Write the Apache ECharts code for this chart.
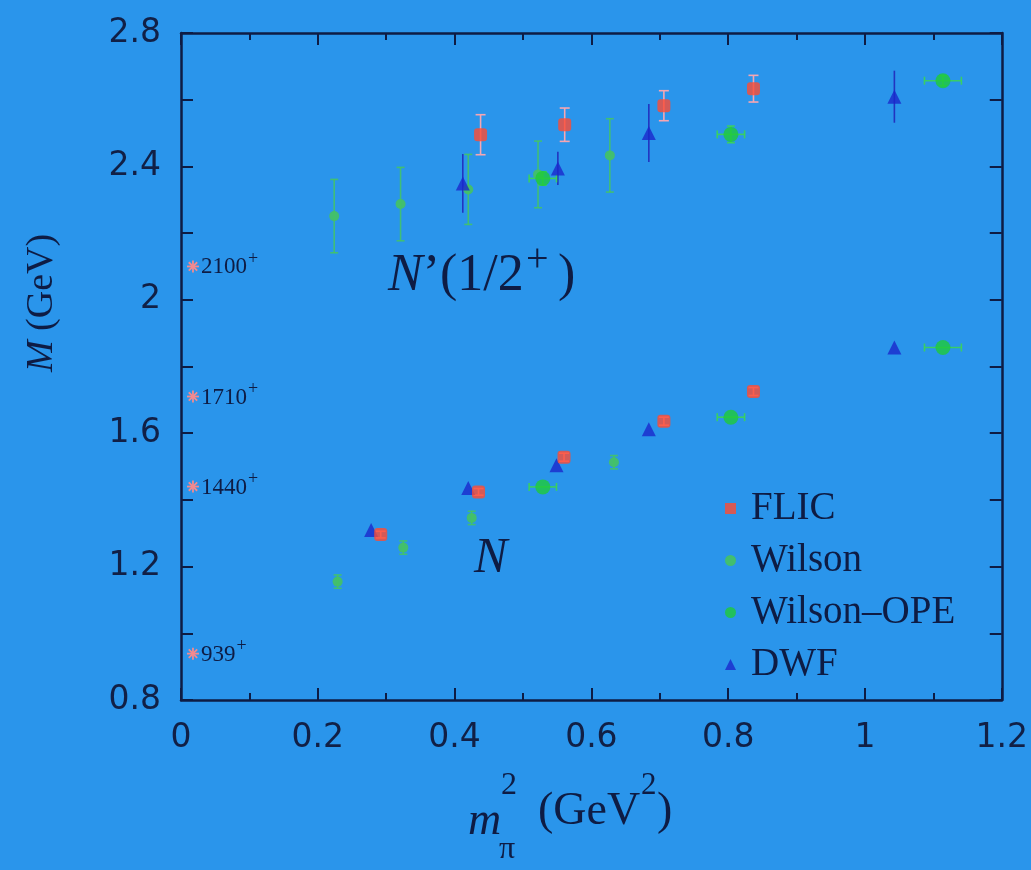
<!DOCTYPE html>
<html><head><meta charset="utf-8">
<script src="https://cdn.jsdelivr.net/npm/echarts@6/dist/echarts.min.js"></script>
<style>html,body{margin:0;padding:0;background:#2a95eb;}#c{width:1031px;height:870px;}</style>
</head><body><div id="c"></div>
<script>
// ---- data ----
const flicNX=[0.292,0.435,0.560,0.706,0.837];
const flicN=[1.296,1.424,1.528,1.636,1.725];
const flicNErr=[0.01,0.01,0.012,0.012,0.012];
const flicPX=[0.438,0.561,0.706,0.837];
const flicP=[2.495,2.525,2.582,2.633];
const flicPErr=[0.06,0.05,0.045,0.04];

const wilNX=[0.229,0.325,0.425,0.633];
const wilN=[1.155,1.257,1.346,1.513];
const wilNErr=[0.02,0.02,0.02,0.02];
const wilPX=[0.224,0.321,0.420,0.522,0.627];
const wilP=[2.251,2.287,2.331,2.376,2.433];
const wilPErr=[0.11,0.11,0.105,0.10,0.11];

const opeX=[0.529,0.804,1.114];
const opeXErr=[0.02,0.02,0.027];
const opeN=[1.439,1.648,1.857];
const opeP=[2.364,2.496,2.657];
const opePErr=[0.02,0.025,0.015];

const dwfNX=[0.278,0.420,0.549,0.684,1.043];
const dwfN=[1.310,1.436,1.504,1.612,1.857];
const dwfPX=[0.412,0.551,0.684,1.043];
const dwfP=[2.349,2.394,2.500,2.609];
const dwfPErr=[0.088,0.05,0.087,0.078];

const physX=0.0175;
const physM=[0.939,1.440,1.710,2.100];
const physLabels=['939','1440','1710','2100'];

const seriesNames=['FLIC','Wilson','Wilson–OPE','DWF'];

// ---- build ----
const ink='#0e1c44';
function pts(xs,ys){return xs.map((x,i)=>[x,ys[i]]);}
function errPts(xs,ys,ey,ex){return xs.map((x,i)=>[x,ys[i],ey?ey[i]:0,ex?ex[i]:0]);}

function errRender(color,cap,lw){
  return function(params,api){
    const x=api.value(0),y=api.value(1),ey=api.value(2),ex=api.value(3);
    const ch=[];
    const st={stroke:color,lineWidth:lw};
    if(ey>0){
      const a=api.coord([x,y-ey]),b=api.coord([x,y+ey]);
      ch.push({type:'line',shape:{x1:a[0],y1:a[1],x2:b[0],y2:b[1]},style:st});
      if(cap>0){
        ch.push({type:'line',shape:{x1:a[0]-cap,y1:a[1],x2:a[0]+cap,y2:a[1]},style:st});
        ch.push({type:'line',shape:{x1:b[0]-cap,y1:b[1],x2:b[0]+cap,y2:b[1]},style:st});
      }
    }
    if(ex>0){
      const a=api.coord([x-ex,y]),b=api.coord([x+ex,y]);
      ch.push({type:'line',shape:{x1:a[0],y1:a[1],x2:b[0],y2:b[1]},style:st});
      if(cap>0){
        ch.push({type:'line',shape:{x1:a[0],y1:a[1]-cap,x2:a[0],y2:a[1]+cap},style:st});
        ch.push({type:'line',shape:{x1:b[0],y1:b[1]-cap,x2:b[0],y2:b[1]+cap},style:st});
      }
    }
    return {type:'group',children:ch};
  };
}

function physRender(params,api){
  const c=api.coord([api.value(0),api.value(1)]);
  const lbl=physLabels[params.dataIndex];
  const r=6, col='#f48a8e';
  const st={stroke:col,lineWidth:1.8};
  const ch=[
    {type:'line',shape:{x1:c[0]-r,y1:c[1],x2:c[0]+r,y2:c[1]},style:st},
    {type:'line',shape:{x1:c[0],y1:c[1]-r,x2:c[0],y2:c[1]+r},style:st},
    {type:'line',shape:{x1:c[0]-r*0.7,y1:c[1]-r*0.7,x2:c[0]+r*0.7,y2:c[1]+r*0.7},style:st},
    {type:'line',shape:{x1:c[0]-r*0.7,y1:c[1]+r*0.7,x2:c[0]+r*0.7,y2:c[1]-r*0.7},style:st},
    {type:'text',x:c[0]+8,y:c[1]+1,style:{text:lbl,fill:ink,font:'23px "Liberation Serif"',textAlign:'left',textVerticalAlign:'middle'}},
    {type:'text',x:c[0]+8+lbl.length*11.5+1,y:c[1]-7,style:{text:'+',fill:ink,font:'18px "Liberation Serif"',textAlign:'left',textVerticalAlign:'middle'}}
  ];
  return {type:'group',children:ch};
}

const axisLine={show:true,onZero:false,lineStyle:{color:ink,width:2.5}};
const tickStyle={color:ink,width:2};
const labelStyle={fontFamily:'DejaVu Sans',fontSize:33,color:'#112046'};

const option={
  backgroundColor:'#2a95eb',
  animation:false,
  grid:{left:181,right:29,top:33,bottom:170,containLabel:false},
  xAxis:[
    {type:'value',min:0,max:1.2,interval:0.2,position:'bottom',axisLine,
     axisTick:{show:true,inside:true,length:12,lineStyle:tickStyle},
     minorTick:{show:true,splitNumber:2,length:7,lineStyle:tickStyle},
     splitLine:{show:false},axisLabel:Object.assign({margin:22},labelStyle)},
    {type:'value',min:0,max:1.2,interval:0.2,position:'top',axisLine,
     axisTick:{show:true,inside:true,length:12,lineStyle:tickStyle},
     minorTick:{show:true,splitNumber:2,length:7,lineStyle:tickStyle},
     splitLine:{show:false},axisLabel:{show:false}}
  ],
  yAxis:[
    {type:'value',min:0.8,max:2.8,interval:0.4,position:'left',axisLine,
     axisTick:{show:true,inside:true,length:12,lineStyle:tickStyle},
     minorTick:{show:true,splitNumber:2,length:12,lineStyle:tickStyle},
     splitLine:{show:false},axisLabel:Object.assign({margin:20},labelStyle)},
    {type:'value',min:0.8,max:2.8,interval:0.4,position:'right',axisLine,
     axisTick:{show:true,inside:true,length:12,lineStyle:tickStyle},
     minorTick:{show:true,splitNumber:2,length:12,lineStyle:tickStyle},
     splitLine:{show:false},axisLabel:{show:false}}
  ],
  legend:{
    data:[{name:'FLIC',icon:'rect'},{name:'Wilson',icon:'circle'},{name:'Wilson–OPE',icon:'circle'},{name:'DWF',icon:'triangle'}],
    orient:'vertical',left:720,top:484,itemWidth:11,itemHeight:11,itemGap:13,
    textStyle:{fontFamily:'Liberation Serif',fontSize:39,color:ink,lineHeight:39,padding:[0,0,0,10]}
  },
  series:[
    {name:'Wilson err',type:'custom',renderItem:errRender('rgba(70,200,90,0.8)',4,1.6),encode:{x:0,y:1},
     data:errPts(wilPX,wilP,wilPErr).concat(errPts(wilNX,wilN,wilNErr)),z:1,silent:true},
    {name:'FLIC err',type:'custom',renderItem:errRender('#f6a6b2',5,1.6),encode:{x:0,y:1},
     data:errPts(flicPX,flicP,flicPErr).concat(errPts(flicNX,flicN,flicNErr)),z:1,silent:true},
    {name:'DWF err',type:'custom',renderItem:errRender('#2234c0',0,1.6),encode:{x:0,y:1},
     data:errPts(dwfPX,dwfP,dwfPErr),z:1,silent:true},
    {name:'OPE err',type:'custom',renderItem:errRender('rgba(60,215,80,0.85)',4,1.6),encode:{x:0,y:1},
     data:errPts(opeX,opeP,opePErr,opeXErr).concat(errPts(opeX,opeN,null,opeXErr)),z:1,silent:true},
    {name:'phys',type:'custom',renderItem:physRender,encode:{x:0,y:1},
     data:physM.map(m=>[physX,m]),z:2,silent:true},
    {name:'Wilson',type:'scatter',symbol:'circle',symbolSize:10,
     itemStyle:{color:'#45c263',opacity:0.9},data:pts(wilPX,wilP).concat(pts(wilNX,wilN)),z:3},
    {name:'Wilson–OPE',type:'scatter',symbol:'circle',symbolSize:15,
     itemStyle:{color:'#1fca38'},data:pts(opeX,opeP).concat(pts(opeX,opeN)),z:4},
    {name:'DWF',type:'scatter',symbol:'triangle',symbolSize:14,
     itemStyle:{color:'#1a28cc'},data:pts(dwfPX,dwfP).concat(pts(dwfNX,dwfN)),z:4},
    {name:'FLIC',type:'scatter',symbol:'roundRect',symbolSize:13,
     itemStyle:{color:'#ff4b32'},data:pts(flicPX,flicP).concat(pts(flicNX,flicN)),z:5}
  ],
  graphic:[
    {type:'text',x:42,y:303,rotation:Math.PI/2,
     style:{text:'{i|M} (GeV)',rich:{i:{fontStyle:'italic',fontFamily:'Liberation Serif',fontSize:38,fill:ink}},
            font:'38px "Liberation Serif"',fill:ink,textAlign:'center',textVerticalAlign:'middle'}},
    {type:'text',x:468,y:822,style:{text:'m',font:'italic 46px "Liberation Serif"',fill:ink,textAlign:'left',textVerticalAlign:'middle'}},
    {type:'text',x:501,y:786,style:{text:'2',font:'32px "Liberation Serif"',fill:ink,textAlign:'left',textVerticalAlign:'middle'}},
    {type:'text',x:499,y:850,style:{text:'π',font:'32px "Liberation Serif"',fill:ink,textAlign:'left',textVerticalAlign:'middle'}},
    {type:'text',x:538,y:812,style:{text:'(GeV',font:'46px "Liberation Serif"',fill:ink,textAlign:'left',textVerticalAlign:'middle'}},
    {type:'text',x:641,y:786,style:{text:'2',font:'31px "Liberation Serif"',fill:ink,textAlign:'left',textVerticalAlign:'middle'}},
    {type:'text',x:657,y:812,style:{text:')',font:'46px "Liberation Serif"',fill:ink,textAlign:'left',textVerticalAlign:'middle'}},
    {type:'text',x:388,y:276,style:{text:'{i|N}’(1/2',rich:{i:{fontStyle:'italic',fontFamily:'Liberation Serif',fontSize:52,fill:ink}},
      font:'52px "Liberation Serif"',fill:ink,textAlign:'left',textVerticalAlign:'middle'}},
    {type:'text',x:526,y:260,style:{text:'+',font:'40px "Liberation Serif"',fill:ink,textAlign:'left',textVerticalAlign:'middle'}},
    {type:'text',x:558,y:276,style:{text:')',font:'52px "Liberation Serif"',fill:ink,textAlign:'left',textVerticalAlign:'middle'}},
    {type:'text',x:474,y:559,style:{text:'N',font:'italic 50px "Liberation Serif"',fill:ink,textAlign:'left',textVerticalAlign:'middle'}}
  ]
};
const chart=echarts.init(document.getElementById('c'),null,{renderer:'canvas'});
chart.setOption(option);
</script></body></html>
